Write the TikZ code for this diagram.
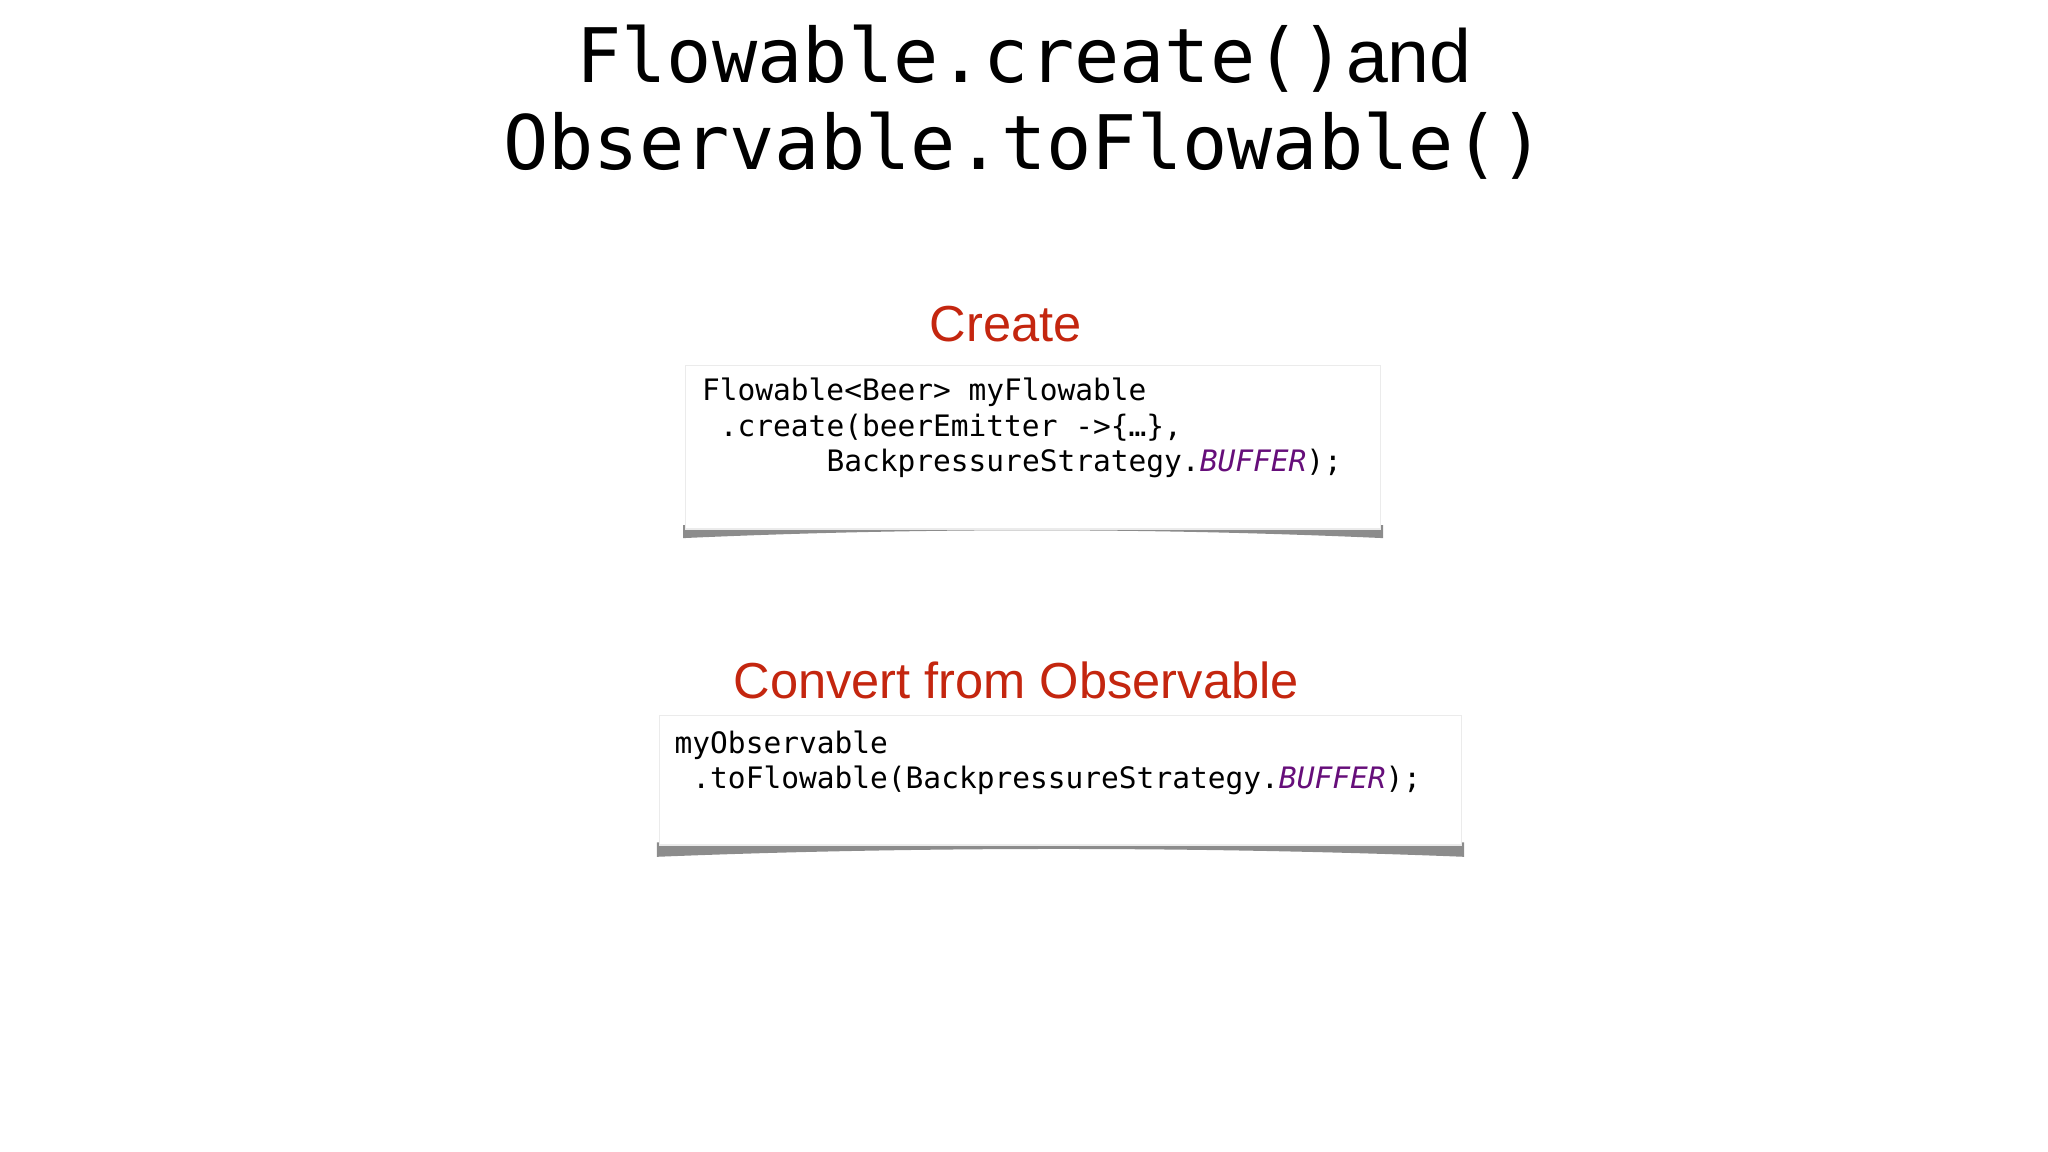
\documentclass[tikz,border=0pt]{standalone}
\usepackage{fontspec}
\setmainfont{Liberation Sans}
\newfontfamily\codefont{DejaVu Sans Mono}
\definecolor{redt}{HTML}{C4260F}
\definecolor{purp}{HTML}{660E7A}
\begin{document}
\begin{tikzpicture}[x=0.01306cm,y=-0.01306cm,
  code/.style={anchor=base west,inner sep=0,font=\codefont\fontsize{8.4}{10}\selectfont},
  head/.style={inner sep=0,text=redt,font=\fontsize{14.4}{16}\selectfont},
  box/.style={fill=white,draw=black!8}]
\useasboundingbox (0,0) rectangle (1568,882);
\node[inner sep=0,anchor=base] (t1) at (784,63) {\codefont\fontsize{21.4}{24}\selectfont Flowable.create()\fontspec{Liberation Sans} and};
\node[inner sep=0,anchor=base] (t2) at (784,130) {\codefont\fontsize{21.4}{24}\selectfont Observable.toFlowable()};
% box 1
\node[head] (h1) at (770,248) {Create};
\fill[black!45] (523,402) .. controls (700,400) and (880,400) .. (1059,402) -- (1059,412) .. controls (880,404) and (700,404) .. (523,412) -- cycle;
\draw[box] (525,280) rectangle (1057,405);
\node[code] (c1) at (537,307) {Flowable<Beer> myFlowable};
\node[code] (c2) at (537,334) {\ .create(beerEmitter ->\{…\},};
\node[code] (c3) at (537,361) {\ \ \ \ \ \ \ BackpressureStrategy.\textcolor{purp}{\itshape BUFFER});};
% box 2
\node[head] (h2) at (778,521) {Convert from Observable};
\fill[black!45] (503,645) .. controls (700,643) and (920,643) .. (1121,645) -- (1121,656) .. controls (920,648) and (700,648) .. (503,656) -- cycle;
\draw[box] (505,548) rectangle (1119,647);
\node[code] (d1) at (516,577) {myObservable};
\node[code] (d2) at (516,604) {\ .toFlowable(BackpressureStrategy.\textcolor{purp}{\itshape BUFFER});};
\end{tikzpicture}
\end{document}
